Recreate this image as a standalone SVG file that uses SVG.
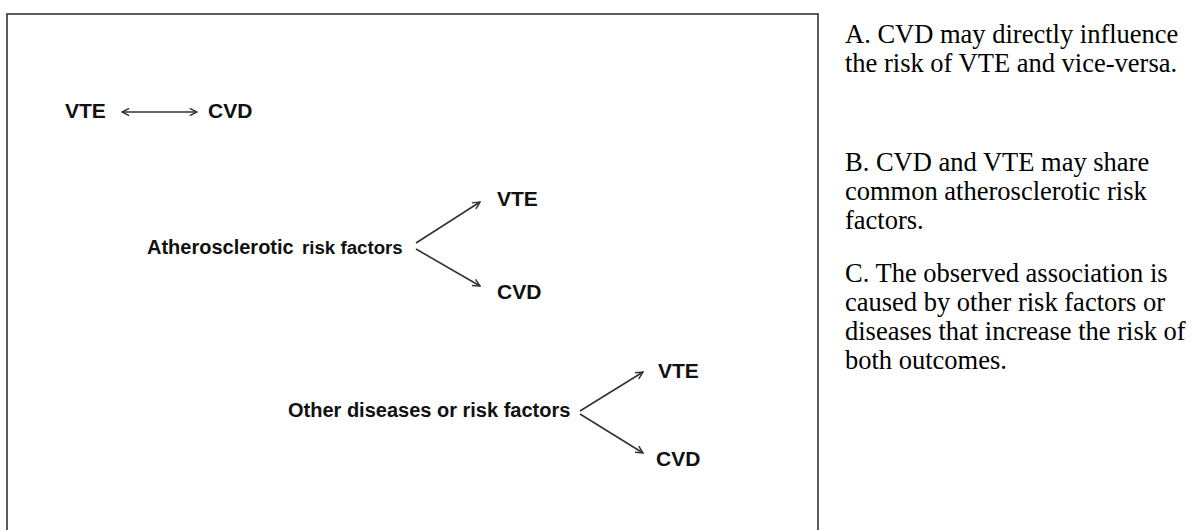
<svg xmlns="http://www.w3.org/2000/svg" width="1196" height="530" viewBox="0 0 1196 530">
<style>
.lbl{font-family:"Liberation Sans",Arial,sans-serif;font-weight:bold;fill:#111;}
.big{font-size:21px;}
.src{font-size:20px;}
.sm{font-size:18.7px;}
.note{font-family:"Liberation Serif","Times New Roman",serif;font-size:26.5px;fill:#000;}
.edge{stroke:#333;stroke-width:1.6;fill:none;}
</style>
<defs>
<marker id="ah" viewBox="0 0 10 10" refX="9" refY="5" markerWidth="9" markerHeight="9" markerUnits="userSpaceOnUse" orient="auto-start-reverse">
<path d="M1,1 L9,5 L1,9" fill="none" stroke="#333" stroke-width="1.6"/>
</marker>
</defs>
<rect width="1196" height="530" fill="#fff"/>
<rect id="frame" x="7" y="14" width="811" height="540" fill="none" stroke="#333" stroke-width="1.6"/>
<g id="connectors">
<line class="edge" x1="122" y1="112" x2="197" y2="112" marker-start="url(#ah)" marker-end="url(#ah)"/>
<line class="edge" x1="416" y1="243" x2="480" y2="202" marker-end="url(#ah)"/>
<line class="edge" x1="416" y1="249" x2="480" y2="286" marker-end="url(#ah)"/>
<line class="edge" x1="580" y1="411" x2="643" y2="372" marker-end="url(#ah)"/>
<line class="edge" x1="580" y1="414" x2="643" y2="453" marker-end="url(#ah)"/>
</g>
<g id="a-vte"><text class="lbl big" x="65" y="118">VTE</text></g>
<g id="a-cvd"><text class="lbl big" x="208" y="118">CVD</text></g>
<g id="b-src"><text class="lbl" x="147" y="254"><tspan class="src">Atherosclerotic</tspan><tspan class="sm" x="302">risk factors</tspan></text></g>
<g id="b-vte"><text class="lbl big" x="497" y="206">VTE</text></g>
<g id="b-cvd"><text class="lbl big" x="497" y="299">CVD</text></g>
<g id="c-src"><text class="lbl src" x="288" y="417">Other diseases or risk factors</text></g>
<g id="c-vte"><text class="lbl big" x="658" y="378">VTE</text></g>
<g id="c-cvd"><text class="lbl big" x="656" y="466">CVD</text></g>
<g id="notes">
<text class="note" x="845" y="43">A. CVD may directly influence</text>
<text class="note" x="845" y="72">the risk of VTE and vice-versa.</text>
<text class="note" x="845" y="171">B. CVD and VTE may share</text>
<text class="note" x="845" y="200">common atherosclerotic risk</text>
<text class="note" x="845" y="229">factors.</text>
<text class="note" x="845" y="282">C. The observed association is</text>
<text class="note" x="845" y="311">caused by other risk factors or</text>
<text class="note" x="845" y="340">diseases that increase the risk of</text>
<text class="note" x="845" y="369">both outcomes.</text>
</g>
</svg>
